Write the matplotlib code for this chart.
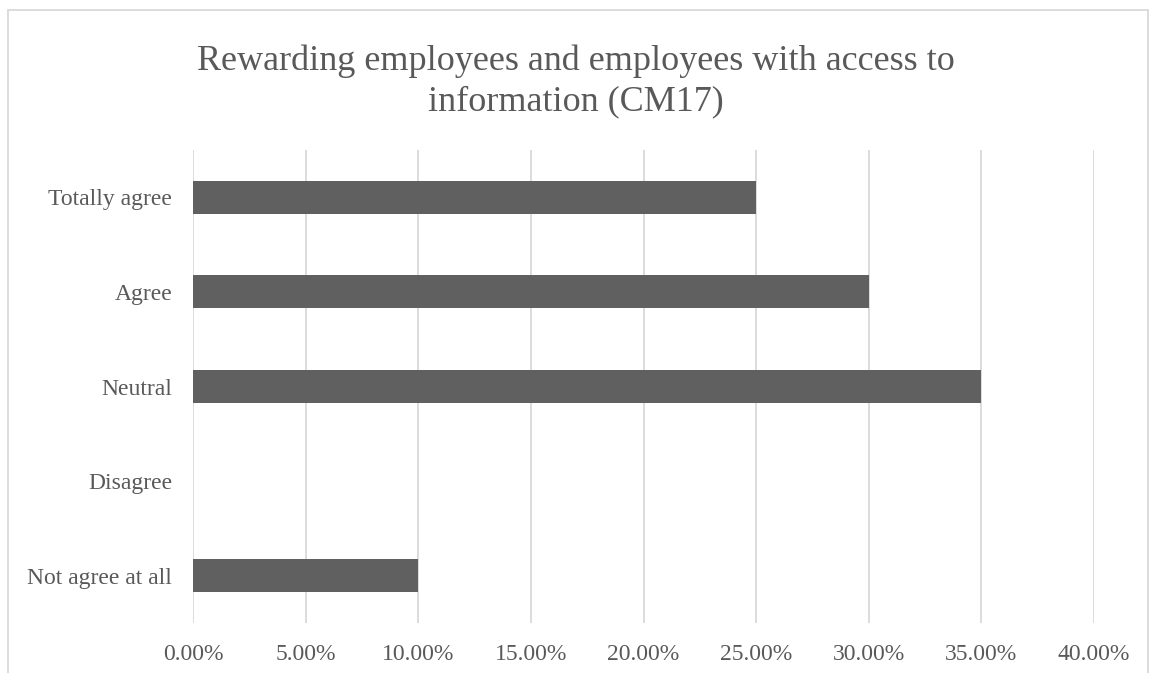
import matplotlib
matplotlib.use("Agg")
import matplotlib.pyplot as plt
from matplotlib.patches import Rectangle
from matplotlib.ticker import FuncFormatter, MultipleLocator

# data
categories = ["Not agree at all", "Disagree", "Neutral", "Agree", "Totally agree"]
shares = [10.0, 0.0, 35.0, 30.0, 25.0]

title = "Rewarding employees and employees with access to\ninformation (CM17)"

plt.rcParams['font.family'] = ['Liberation Serif', 'DejaVu Serif']
text_grey = "#595959"
grid_grey = "#d9d9d9"
bar_grey = "#606060"

fig = plt.figure(figsize=(11.52, 6.73), dpi=100)
ax = fig.add_axes([0.1675, 0.0743, 0.7822, 0.7028])

ax.barh(range(len(categories)), shares, height=0.35, color=bar_grey, zorder=3)

ax.set_xlim(0, 40)
ax.set_ylim(-0.5, len(categories) - 0.5)
ax.xaxis.set_major_locator(MultipleLocator(5))
ax.xaxis.set_major_formatter(FuncFormatter(lambda v, p: f"{v:.2f}%"))
ax.set_yticks(range(len(categories)))
ax.set_yticklabels(categories)

ax.grid(axis="x", color=grid_grey, linewidth=1.3, zorder=0)
for s in ax.spines.values():
    s.set_visible(False)
ax.tick_params(axis="both", length=0, labelsize=17, labelcolor=text_grey)
ax.tick_params(axis="y", pad=15)
ax.tick_params(axis="x", pad=15)

fig.text(0.5, 0.879, title, ha="center", va="center", fontsize=26,
         color=text_grey, linespacing=1.3)

# outer chart frame (bottom edge is cut off in the original)
frame = Rectangle((8 / 1152, -0.05), 1140 / 1152, 1.05 - 10 / 673,
                  transform=fig.transFigure, fill=False, edgecolor=grid_grey,
                  linewidth=1.3, clip_on=False)
fig.patches.append(frame)

fig.savefig("out.png", dpi=100, facecolor="white")
